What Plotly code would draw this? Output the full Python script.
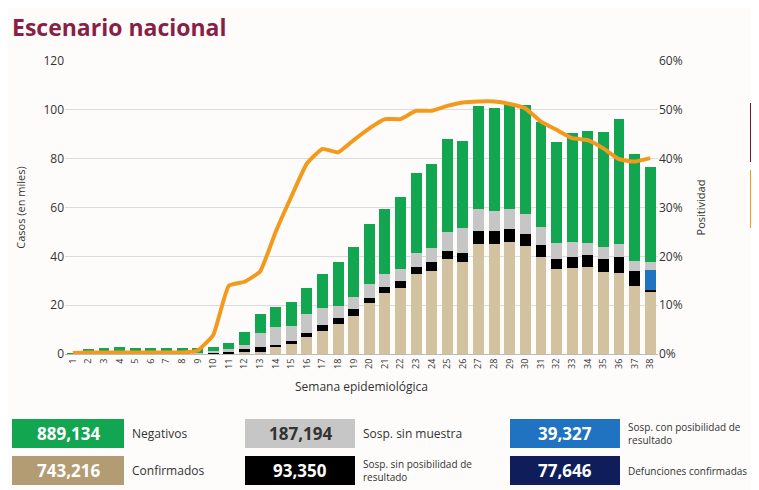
import plotly.graph_objects as go

weeks = [str(i) for i in range(1, 39)]
confirmados = [0, 0, 0, 0, 0, 0, 0, 0, 0, 0.3, 0.3, 0.7, 1, 2.7, 4, 6.8, 9.4, 12.3, 15.7, 20.8, 24.9,
               27.2, 32.6, 34.2, 38.9, 37.8, 45, 45, 46, 44.4, 39.9, 35, 35.4, 35.5, 33.7, 33.3, 27.9, 25.8]
sin_posibilidad = [0, 0, 0, 0, 0, 0, 0, 0, 0, 0.2, 0.5, 1.3, 1.7, 1.0, 1.3, 1.7, 2.5, 2.3, 2.6, 2.3, 2.4,
                   2.7, 3.2, 3.4, 3.4, 3.7, 5.4, 5.4, 5.1, 4.8, 4.6, 3.9, 4.2, 5.1, 5.4, 6.6, 6.2, 0.6]
con_posibilidad = [0]*37 + [7.9]
sin_muestra = [0, 0, 0, 0, 0, 0, 0, 0, 0.3, 0.9, 1.2, 1.7, 5.8, 7.2, 6.3, 7.8, 6.8, 5.2, 4.9, 5.5, 5.3,
               4.9, 5.4, 5.8, 7.8, 10, 9, 8.2, 8.3, 8.2, 7.7, 6.5, 6.3, 5, 4.6, 5.1, 4.1, 3.5]
negativos = [0.3, 1.9, 2.6, 3, 2.6, 2.6, 2.6, 2.6, 2.3, 1.6, 2.4, 5.2, 7.8, 8.2, 9.8, 10.9, 14.2, 17.8, 20.8, 24.5, 26.8,
             29.7, 32.8, 34.6, 37.9, 35.8, 42, 42.1, 43.6, 44.4, 43, 41.6, 44.8, 45.8, 47.3, 51.2, 43.6, 38.7]
positividad = [0.2, 0.3, 0.3, 0.3, 0.3, 0.3, 0.3, 0.3, 0.7, 3.9, 14, 14.8, 16.9, 25, 32.2, 39, 42, 41.3, 43.8, 46.2, 48.1,
               48.1, 49.8, 49.8, 50.8, 51.5, 51.7, 51.7, 51.2, 50.3, 47.6, 45.9, 44.2, 43.8, 42.1, 39.9, 39.4, 40.1]

fig = go.Figure()
series = [("Confirmados", confirmados, "#d3c29f"), ("Sosp. sin posibilidad", sin_posibilidad, "#000000"),
          ("Sosp. con posibilidad", con_posibilidad, "#1f73c0"), ("Sosp. sin muestra", sin_muestra, "#c6c6c6"),
          ("Negativos", negativos, "#13a651")]
for n, v, c in series:
    fig.add_trace(go.Bar(x=weeks, y=v, name=n, marker_color=c, marker_line_width=0))
fig.add_trace(go.Scatter(x=weeks, y=positividad, yaxis="y2", mode="lines",
                         line=dict(color="#f39a1e", width=4, shape="spline", smoothing=0.4)))

OFF = 8  # page body margin
W, H = 759 - OFF, 490 - OFF
L, R, T, B = 65 - OFF, 658 - OFF, 61 - OFF, 354 - OFF
def px(x): return (x - OFF - L) / (R - L)
def py(y): return (B - (y - OFF)) / (B - T)

boxes = [
    (12, 124, 419, 448, "#13a651", "889,134", "white", "Negativos"),
    (245, 355, 419, 448, "#c6c6c6", "187,194", "#333", "Sosp. sin muestra"),
    (510, 620, 419, 448, "#1f73c0", "39,327", "white", "Sosp. con posibilidad de<br>resultado"),
    (12, 124, 456, 485, "#b39c74", "743,216", "white", "Confirmados"),
    (245, 355, 456, 485, "#000000", "93,350", "white", "Sosp. sin posibilidad de<br>resultado"),
    (510, 620, 456, 485, "#0f1e5a", "77,646", "white", "Defunciones confirmadas"),
]
shapes, ann = [], []
for x0, x1, y0, y1, c, num, tc, lab in boxes:
    shapes.append(dict(type="rect", xref="paper", yref="paper", x0=px(x0), x1=px(x1), y0=py(y1), y1=py(y0),
                       fillcolor=c, line_width=0, layer="above"))
    ann.append(dict(xref="paper", yref="paper", x=px((x0 + x1) / 2), y=py((y0 + y1) / 2), text="<b>%s</b>" % num,
                    xanchor="center", yanchor="middle",
                    showarrow=False, font=dict(size=17, color=tc, family="Open Sans")))
    small = "<br>" in lab or "Defunciones" in lab
    ann.append(dict(xref="paper", yref="paper", x=px(x1 + 6), y=py((y0 + y1) / 2), text=lab, xanchor="left",
                    yanchor="middle", align="left", showarrow=False,
                    font=dict(size=10 if small else 12, color="#333", family="Open Sans")))
shapes.append(dict(type="rect", xref="paper", yref="paper", x0=px(750), x1=px(775), y0=py(162), y1=py(103),
                   fillcolor="#6b1630", line_width=0))
shapes.append(dict(type="rect", xref="paper", yref="paper", x0=px(750), x1=px(775), y0=py(228), y1=py(170),
                   fillcolor="#f39a1e", line_width=0))
ann.append(dict(xref="paper", yref="paper", x=px(10), y=py(27), text="<b>Escenario nacional</b>", xanchor="left",
                yanchor="middle", showarrow=False, font=dict(size=23, color="#8a1f45", family="Open Sans")))

fig.update_layout(
    width=W, height=H, barmode="stack", bargap=0.3, showlegend=False,
    margin=dict(l=L, r=W - R, t=T, b=H - B),
    paper_bgcolor="#fdfcfa", plot_bgcolor="rgba(0,0,0,0)",
    font=dict(family="Open Sans", color="#333"),
    xaxis=dict(tickangle=-90, tickfont=dict(size=9), showgrid=False, showline=True, linecolor="#bbb",
               title=dict(text="Semana epidemiológica", font=dict(size=12), standoff=14)),
    yaxis=dict(range=[0, 120], dtick=20, gridcolor="#dcdcdc", tickfont=dict(size=12),
               title=dict(text="Casos (en miles)", font=dict(size=11))),
    yaxis2=dict(range=[0, 60], dtick=10, overlaying="y", side="right", ticksuffix="%", showgrid=False,
                tickfont=dict(size=12), title=dict(text="Positividad", font=dict(size=11))),
    shapes=shapes, annotations=ann,
)
fig.write_html("out.html")
